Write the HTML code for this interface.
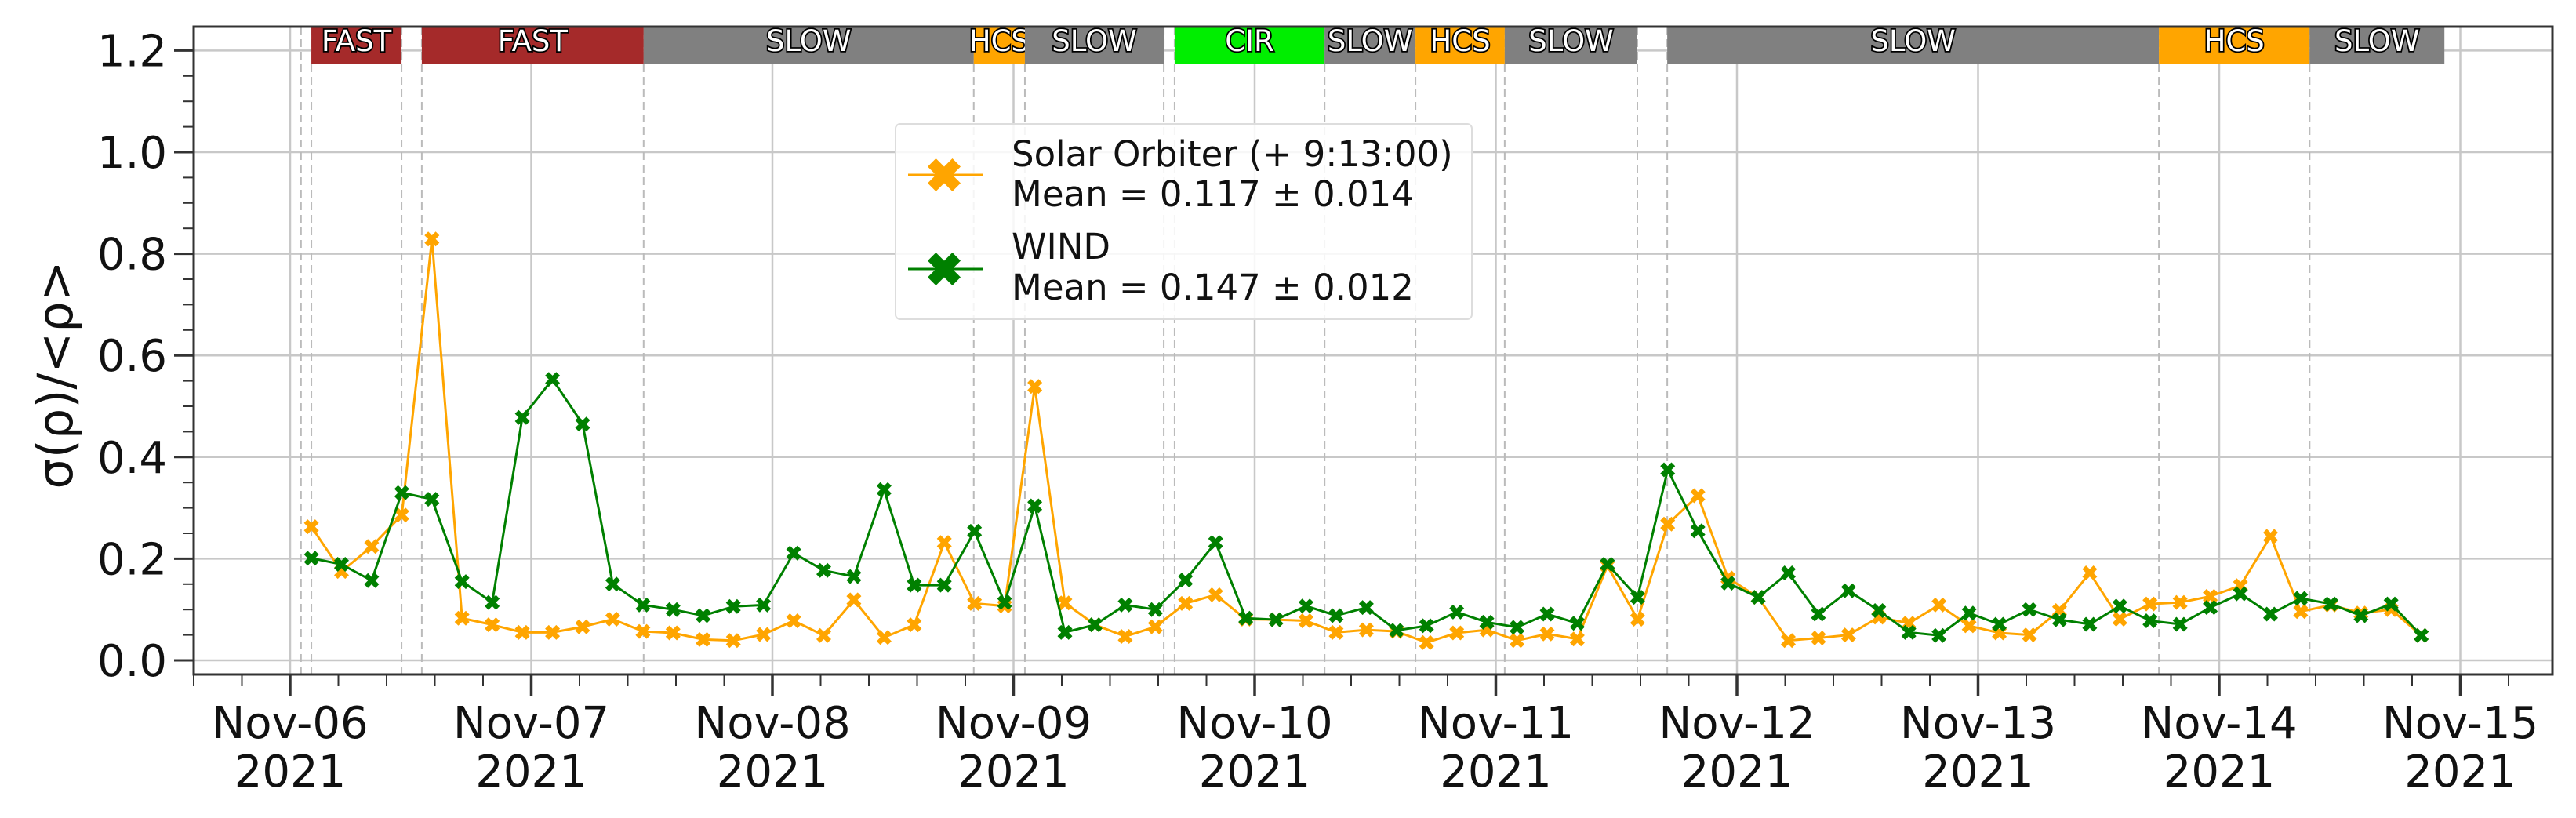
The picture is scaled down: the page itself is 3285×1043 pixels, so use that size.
<!DOCTYPE html>
<html><head><meta charset="utf-8"><style>
html,body{margin:0;padding:0;background:#fff;}
svg{display:block;font-family:"DejaVu Sans","Liberation Sans",sans-serif;}
</style></head><body>
<svg id="chart" width="3285" height="1043" viewBox="0 0 3285 1043" xmlns="http://www.w3.org/2000/svg">
<g id="grid"></g>
<g id="vlines"></g>
<g id="regions"></g>
<g id="series"></g>
<g id="axes"></g>
<text transform="translate(92,478) rotate(-90)" text-anchor="middle" font-size="62" fill="#111">σ(ρ)/&lt;ρ&gt;</text>
<g id="legend">
<rect x="1142" y="158" width="735" height="249" rx="6" fill="#fff" fill-opacity="0.85" stroke="#ddd" stroke-width="2"/>
<line x1="1158" y1="223" x2="1253" y2="223" stroke="#FFA500" stroke-width="3"/>
<line x1="1158" y1="343" x2="1253" y2="343" stroke="#008000" stroke-width="3"/>
<path id="lgm1" fill="#FFA500"/>
<path id="lgm2" fill="#008000"/>
<text x="1290" y="212" font-size="45" fill="#111">Solar Orbiter (+ 9:13:00)</text>
<text x="1290" y="263" font-size="45" fill="#111">Mean = 0.117 ± 0.014</text>
<text x="1290" y="330" font-size="45" fill="#111">WIND</text>
<text x="1290" y="382" font-size="45" fill="#111">Mean = 0.147 ± 0.012</text>
</g>
</svg>
<script>
// ---- data ----
const startDay = 0.088;      // days after Nov-06 00:00 of first sample
const stepDay = 0.125;       // 3-hour cadence
const soloValues = [0.263,0.175,0.224,0.286,0.829,0.083,0.07,0.055,0.055,0.066,0.081,0.057,0.054,0.041,0.039,0.051,0.078,0.049,0.119,
0.045,0.07,0.232,0.112,0.107,0.539,0.113,0.07,0.047,0.066,0.112,0.129,0.081,0.08,0.078,0.055,0.06,0.057,0.035,0.054,0.06,0.039,0.052,0.042,0.186,0.081,0.268,0.324,
0.162,0.124,0.039,0.044,0.05,0.085,0.073,0.109,0.068,0.054,0.05,0.098,0.172,0.081,0.111,0.114,0.126,0.147,0.244,0.096,0.109,0.093,0.10,0.049];
const windValues = [0.201,0.189,0.157,0.330,0.317,0.155,0.114,0.478,0.553,0.465,0.150,0.109,0.10,0.088,0.106,0.109,0.211,0.177,0.165,
0.336,0.148,0.148,0.254,0.114,0.304,0.055,0.07,0.109,0.10,0.158,0.232,0.083,0.08,0.107,0.088,0.104,0.059,0.068,0.095,0.075,0.065,0.091,0.073,0.189,0.124,0.375,0.255,
0.152,0.124,0.172,0.091,0.137,0.098,0.055,0.049,0.093,0.071,0.10,0.08,0.071,0.107,0.078,0.071,0.104,0.131,0.091,0.122,0.111,0.088,0.111,0.049];
const regionStarts = [0.088,0.546,1.466,2.835,3.047,3.668,4.29,4.667,5.037,5.711,7.75,8.375];
const regionEnds   = [0.462,1.466,2.835,3.047,3.623,4.29,4.667,5.037,5.587,7.75,8.375,8.934];
const regionLabels = ["FAST","FAST","SLOW","HCS","SLOW","CIR","SLOW","HCS","SLOW","SLOW","HCS","SLOW"];
const regionColors = ["#a52a2a","#a52a2a","#808080","#FFA500","#808080","#00ee00","#808080","#FFA500","#808080","#808080","#FFA500","#808080"];
const boundaryDays = [0.045,0.088,0.462,0.546,1.466,2.835,3.047,3.623,3.668,4.29,4.667,5.037,5.587,5.711,7.75,8.375];
const xTickLabels = ["Nov-06","Nov-07","Nov-08","Nov-09","Nov-10","Nov-11","Nov-12","Nov-13","Nov-14","Nov-15"];
const yTickLabels = ["0.0","0.2","0.4","0.6","0.8","1.0","1.2"];

// ---- scales ----
const L=247,R=3255,T=34,B=860;
const dayPx=307.5, x0=370;
const X=d=>x0+d*dayPx;
const Y=v=>842-v*648;
const NS="http://www.w3.org/2000/svg";
function mk(tag,attrs,parent){const e=document.createElementNS(NS,tag);for(const k in attrs)e.setAttribute(k,attrs[k]);parent.appendChild(e);return e;}
function xpath(cx,cy,s){const a=s*0.5,w=s*0.25;
 const pts=[[0,-w],[a-w,-a],[a,-a+w],[w,0],[a,a-w],[a-w,a],[0,w],[-a+w,a],[-a,a-w],[-w,0],[-a,-a+w],[-a+w,-a]];
 return "M"+pts.map(p=>(cx+p[0]).toFixed(1)+","+(cy+p[1]).toFixed(1)).join("L")+"Z";}

const grid=document.getElementById('grid'),vl=document.getElementById('vlines'),rg=document.getElementById('regions'),sr=document.getElementById('series'),ax=document.getElementById('axes');
mk('rect',{x:L,y:T,width:R-L,height:B-T,fill:'#fff'},grid);
yTickLabels.forEach((t,i)=>{const y=Y(i*0.2);
 const g=mk('line',{x1:L,x2:R,y1:y,y2:y,stroke:'#c8c8c8','stroke-width':2.5},grid);
 
 });
xTickLabels.forEach((t,i)=>{const x=X(i);
 const g=mk('line',{x1:x,x2:x,y1:T,y2:B,stroke:'#c8c8c8','stroke-width':2.5},grid);
 
 });
boundaryDays.forEach(d=>{const x=X(d);
 const l=mk('line',{x1:x,x2:x,y1:T,y2:B,stroke:'#bbb','stroke-width':2,'stroke-dasharray':'10,6'},vl);
 
 });
regionStarts.forEach((s,i)=>{const x1=X(s),x2=X(regionEnds[i]);
 const r=mk('rect',{x:x1,y:34,width:x2-x1,height:47,fill:regionColors[i]},rg);
 
 
 const t=mk('text',{x:(x1+x2)/2,y:65,'text-anchor':'middle','font-size':37,fill:'#fff',stroke:'#000','stroke-width':3.5,'paint-order':'stroke'},rg);
 t.textContent=regionLabels[i];
 
 });
function series(vals,color,name){
 const pts=vals.map((v,i)=>[X(startDay+i*stepDay),Y(v)]);
 const p=mk('polyline',{points:pts.map(p=>p.join(',')).join(' '),fill:'none',stroke:color,'stroke-width':3},sr);
 
 
 pts.forEach(q=>{const m=mk('path',{d:xpath(q[0],q[1],19),fill:color},sr);
  
  });}
series(soloValues,'#FFA500','solo');
series(windValues,'#008000','wind');
document.getElementById('lgm1').setAttribute('d',xpath(1204,223,42));
document.getElementById('lgm2').setAttribute('d',xpath(1204,343,42));
// axes frame
mk('rect',{x:L,y:T,width:R-L,height:B-T,fill:'none',stroke:'#333','stroke-width':3},ax);
// y ticks
for(let k=0;k<=24;k++){const v=k*0.05,y=Y(v);if(y<T)continue;const maj=k%4==0;
 mk('line',{x1:L-(maj?25:14),x2:L,y1:y,y2:y,stroke:'#333','stroke-width':maj?3:2},ax);}
yTickLabels.forEach((t,i)=>{const e=mk('text',{x:L-34,y:Y(i*0.2)+20,'text-anchor':'end','font-size':56,fill:'#111'},ax);
 e.textContent=t;
 
 });
// x ticks
for(let k=-2;k<=46;k++){const d=k*0.2,x=X(d);if(x<L||x>R)continue;const maj=k%5==0;
 mk('line',{x1:x,x2:x,y1:B,y2:B+(maj?28:15),stroke:'#333','stroke-width':maj?3.5:2},ax);}
xTickLabels.forEach((t,i)=>{const x=X(i);
 const e=mk('text',{x:x,y:941,'text-anchor':'middle','font-size':56,fill:'#111'},ax);
 e.textContent=t;
 
 
 const e2=mk('text',{x:x,y:1003,'text-anchor':'middle','font-size':56,fill:'#111'},ax);
 e2.textContent='2021';
 
 });
</script>
</body></html>
